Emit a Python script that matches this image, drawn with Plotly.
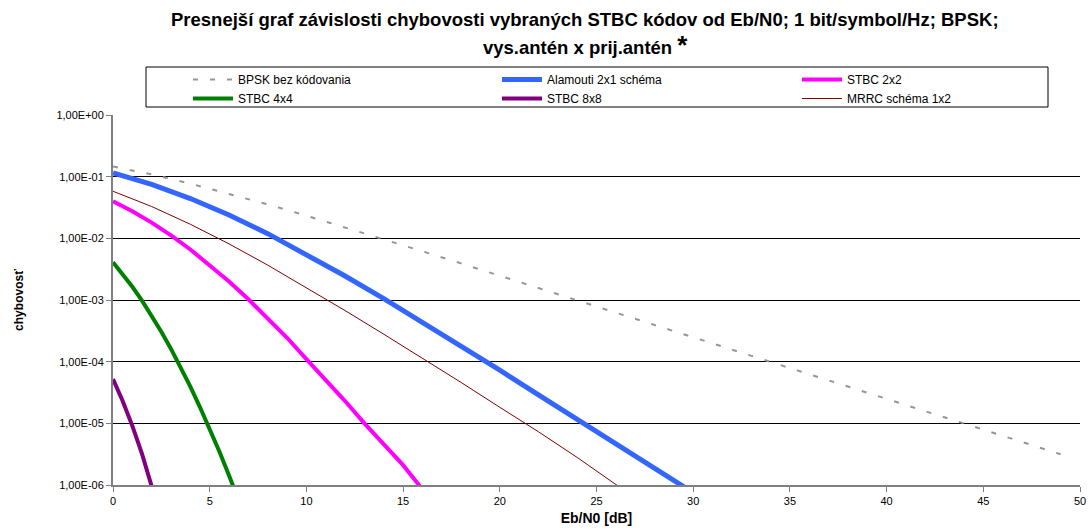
import plotly.graph_objects as go

# ---- data ----
x_bpsk = [0, 2, 4, 6, 8, 10, 12, 14, 16, 18, 20, 22, 24, 26, 28, 30, 32, 34, 36, 38, 40, 42, 44, 46, 48, 49]
y_bpsk = [0.146, 0.109, 0.0771, 0.053, 0.0355, 0.0233, 0.0151, 0.00967, 0.00617, 0.00392, 0.00248,
          0.00157, 0.00099, 0.000627, 0.000396, 0.00025, 0.000158, 0.0000995, 0.0000628, 0.0000396,
          0.000025, 0.0000158, 0.00000995, 0.00000628, 0.00000396, 0.00000315]

x_alam = [0, 2, 4, 6, 8, 10, 12, 14, 16, 18, 20, 22, 24, 26, 28, 30]
y_alam = [0.1151, 0.0748, 0.0442, 0.0239, 0.0119, 0.00553, 0.00245, 0.00105, 0.000436, 0.000179,
          0.0000726, 0.000029, 0.0000117, 0.0000047, 0.0000019, 0.00000075]

x_2x2 = [0, 1, 2, 3, 4, 5, 6, 7, 8, 9, 10, 11, 12, 13, 14, 15, 16]
y_2x2 = [0.040, 0.0275, 0.018, 0.0112, 0.0066, 0.0037, 0.0020, 0.00103, 0.00051, 0.000244, 0.00011,
         0.000051, 0.000023, 0.00001, 0.0000045, 0.0000021, 0.00000085]

x_4x4 = [0, 0.5, 1, 1.5, 2, 2.5, 3, 3.5, 4, 4.5, 5, 5.5, 6, 6.5]
y_4x4 = [0.0041, 0.00263, 0.00164, 0.000975, 0.000557, 0.000305, 0.000161, 0.000081, 0.0000393,
         0.0000182, 0.0000081, 0.0000035, 0.00000143, 0.00000056]

x_8x8 = [0, 0.5, 1, 1.5, 2, 2.5]
y_8x8 = [0.000052, 0.000023, 0.0000091, 0.0000032, 0.00000095, 0.0000003]

x_mrrc = [0, 2, 4, 6, 8, 10, 12, 14, 16, 18, 20, 22, 24, 26, 28]
y_mrrc = [0.058, 0.0328, 0.0169, 0.00813, 0.00368, 0.0016, 0.000674, 0.000279, 0.000114, 0.000046,
          0.0000182, 0.0000073, 0.0000028, 0.00000102, 0.0000004]

y_tickvals = [1e-6, 1e-5, 1e-4, 1e-3, 1e-2, 1e-1, 1]
y_ticktext = ["1,00E-06", "1,00E-05", "1,00E-04", "1,00E-03", "1,00E-02", "1,00E-01", "1,00E+00"]
x_tickvals = [0, 5, 10, 15, 20, 25, 30, 35, 40, 45, 50]

title_line1 = "Presnejší graf závislosti chybovosti vybraných STBC kódov od Eb/N0; 1 bit/symbol/Hz; BPSK;"
title_line2 = "vys.antén x prij.antén"

FONT = "Liberation Sans, Arial, sans-serif"

PW, PH, ML, MT = 967, 370, 113, 115

def px_x(p):
    return (p - ML) / PW

def px_y(p):
    return 1 + (MT - p) / PH

fig = go.Figure()
fig.add_trace(go.Scatter(x=x_bpsk, y=y_bpsk, mode="lines", name="BPSK bez kódovania", legend="legend",
                         line=dict(color="#969696", width=2, dash="5px,12px")))
fig.add_trace(go.Scatter(x=x_alam, y=y_alam, mode="lines", name="Alamouti 2x1 schéma", legend="legend2",
                         line=dict(color="#3366FF", width=5)))
fig.add_trace(go.Scatter(x=x_2x2, y=y_2x2, mode="lines", name="STBC 2x2", legend="legend3",
                         line=dict(color="#FF00FF", width=4)))
fig.add_trace(go.Scatter(x=x_4x4, y=y_4x4, mode="lines", name="STBC 4x4", legend="legend",
                         line=dict(color="#008000", width=4)))
fig.add_trace(go.Scatter(x=x_8x8, y=y_8x8, mode="lines", name="STBC 8x8", legend="legend2",
                         line=dict(color="#800080", width=4)))
fig.add_trace(go.Scatter(x=x_mrrc, y=y_mrrc, mode="lines", name="MRRC schéma 1x2", legend="legend3",
                         line=dict(color="#800000", width=1)))

def legend_at(px):
    return dict(
        orientation="v", x=px_x(px), xanchor="left", y=px_y(65), yanchor="top",
        bgcolor="rgba(0,0,0,0)", borderwidth=0, tracegroupgap=0, itemwidth=40,
        font=dict(family=FONT, size=12, color="black"),
    )

fig.update_layout(
    width=1091, height=531,
    margin=dict(l=ML, r=11, t=MT, b=46, autoexpand=False),
    paper_bgcolor="white", plot_bgcolor="white",
    font=dict(family=FONT, size=11, color="black"),
    legend=legend_at(188),
    legend2=legend_at(497),
    legend3=legend_at(797),
    showlegend=True,
    annotations=[
        dict(text="<b>" + title_line1 + "</b>", xref="paper", yref="paper",
             x=px_x(585), y=px_y(19), xanchor="center", yanchor="middle", showarrow=False,
             font=dict(family=FONT, size=18.5, color="black")),
        dict(text="<b>" + title_line2 + " </b><b><span style='font-size:26px'>*</span></b>",
             xref="paper", yref="paper",
             x=px_x(585), y=px_y(45), xanchor="center", yanchor="middle", showarrow=False,
             font=dict(family=FONT, size=18.5, color="black")),
    ],
)

fig.add_shape(type="rect", xref="paper", yref="paper",
              x0=px_x(146), x1=px_x(1048), y0=px_y(107), y1=px_y(67),
              line=dict(color="black", width=1), fillcolor="rgba(0,0,0,0)")

fig.update_xaxes(
    range=[0, 50], tickvals=x_tickvals, ticks="outside", ticklen=5, tickcolor="#808080",
    showline=True, linecolor="#808080", linewidth=2, showgrid=False, zeroline=False,
    automargin=False,
    tickfont=dict(family=FONT, size=11, color="black"),
    title=dict(text="<b>Eb/N0 [dB]</b>", font=dict(family=FONT, size=14, color="black"), standoff=7),
)
fig.update_yaxes(
    type="log", range=[-6, 0], tickvals=y_tickvals, ticktext=y_ticktext,
    ticks="outside", ticklen=5, tickcolor="#808080",
    showline=True, linecolor="#808080", linewidth=2,
    showgrid=True, gridcolor="black", gridwidth=1, zeroline=False,
    automargin=False,
    tickfont=dict(family=FONT, size=11, color="black"),
    title=dict(text="<b>chybovosť</b>", font=dict(family=FONT, size=12, color="black"), standoff=30),
)

fig.write_html("out.html")
